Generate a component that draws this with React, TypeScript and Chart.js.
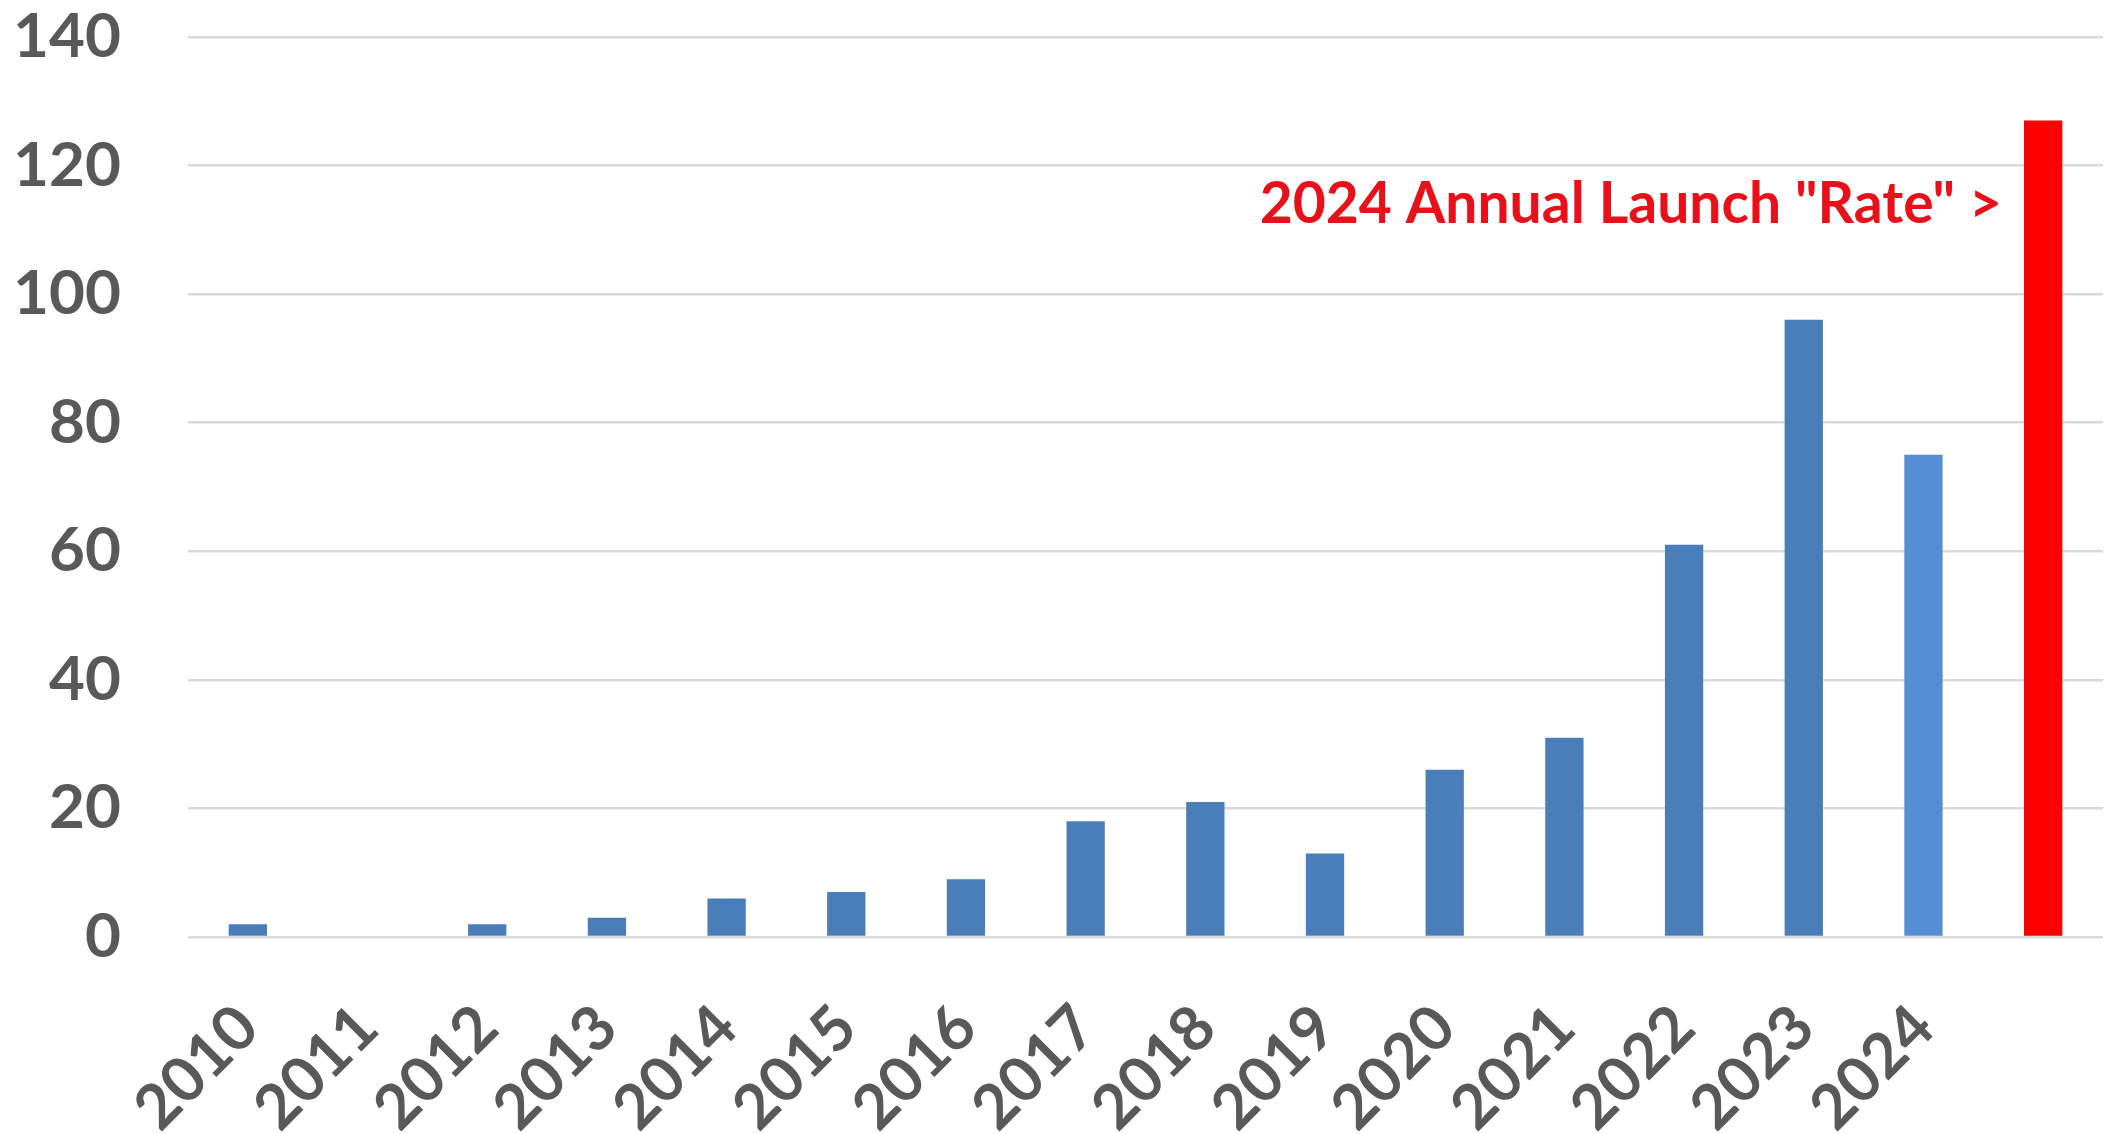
import React, { useEffect, useRef } from 'react';
import { Chart, registerables } from 'chart.js';

Chart.register(...registerables);

// ---- data ----
const categories = ['2010', '2011', '2012', '2013', '2014', '2015', '2016', '2017', '2018', '2019', '2020', '2021', '2022', '2023', '2024', ''];
const launches = [2, 0, 2, 3, 6, 7, 9, 18, 21, 13, 26, 31, 61, 96, 75, 127];
const yTickValues = [0, 20, 40, 60, 80, 100, 120, 140];
const annotationText = '2024 Annual Launch "Rate" >';
const annotationValue = 114;

// ---- styles ----
const BLUE = '#4A7EBB';
const LIGHT_BLUE = '#558ED5';
const RED = '#FF0000';
const TICK_COLOR = '#595959';
const GRID_COLOR = '#D9D9D9';
const FONT_FAMILY = 'Lato, "Open Sans", sans-serif';

const barColors = launches.map((_, i) =>
  i === launches.length - 1 ? RED : i === launches.length - 2 ? LIGHT_BLUE : BLUE
);

const annotationPlugin = {
  id: 'rateAnnotation',
  afterDatasetsDraw(chart: any) {
    const { ctx, scales } = chart;
    const ys = scales.y;
    const meta = chart.getDatasetMeta(0);
    const lastBar = meta.data[meta.data.length - 1];
    const barLeft = lastBar.x - lastBar.width / 2;
    ctx.save();
    ctx.font = `bold 57px ${FONT_FAMILY}`;
    ctx.fillStyle = '#E8111A';
    ctx.textAlign = 'right';
    ctx.textBaseline = 'middle';
    ctx.fillText(annotationText, barLeft - 22, ys.getPixelForValue(annotationValue));
    ctx.restore();
  },
};

export default function App() {
  const canvasRef = useRef<HTMLCanvasElement | null>(null);

  useEffect(() => {
    if (!canvasRef.current) return;
    const chart = new Chart(canvasRef.current, {
      type: 'bar',
      data: {
        labels: categories,
        datasets: [
          {
            data: launches,
            backgroundColor: barColors,
            borderWidth: 0,
            barPercentage: 0.32,
            categoryPercentage: 1,
          },
        ],
      },
      options: {
        responsive: false,
        devicePixelRatio: 1,
        animation: false,
        layout: { padding: { top: 37, right: 5, left: 0, bottom: 0 } },
        plugins: {
          legend: { display: false },
          tooltip: { enabled: false },
        },
        scales: {
          x: {
            grid: { display: false },
            border: { display: false },
            ticks: {
              color: TICK_COLOR,
              font: { family: FONT_FAMILY, size: 62, weight: 'bold' },
              maxRotation: 45,
              minRotation: 45,
              autoSkip: false,
              padding: 46,
            },
            afterFit: (s: any) => {
              s.height = 197;
              s.paddingLeft = 0;
              s.paddingRight = 0;
            },
          },
          y: {
            min: 0,
            max: 140,
            afterBuildTicks: (s: any) => {
              s.ticks = yTickValues.map((v) => ({ value: v }));
            },
            grid: { color: GRID_COLOR, lineWidth: 2.5, drawTicks: false },
            border: { display: false },
            ticks: {
              color: TICK_COLOR,
              font: { family: FONT_FAMILY, size: 62, weight: 'bold' },
              padding: 67,
            },
            afterFit: (s: any) => {
              s.width = 188;
              s.paddingTop = 0;
              s.paddingBottom = 0;
            },
          },
        },
      },
      plugins: [annotationPlugin],
    });
    return () => chart.destroy();
  }, []);

  return (
    <div style={{ position: 'absolute', left: 0, top: 0, width: 2108, height: 1134, background: '#fff' }}>
      <canvas ref={canvasRef} width={2108} height={1134} style={{ display: 'block' }} />
    </div>
  );
}
